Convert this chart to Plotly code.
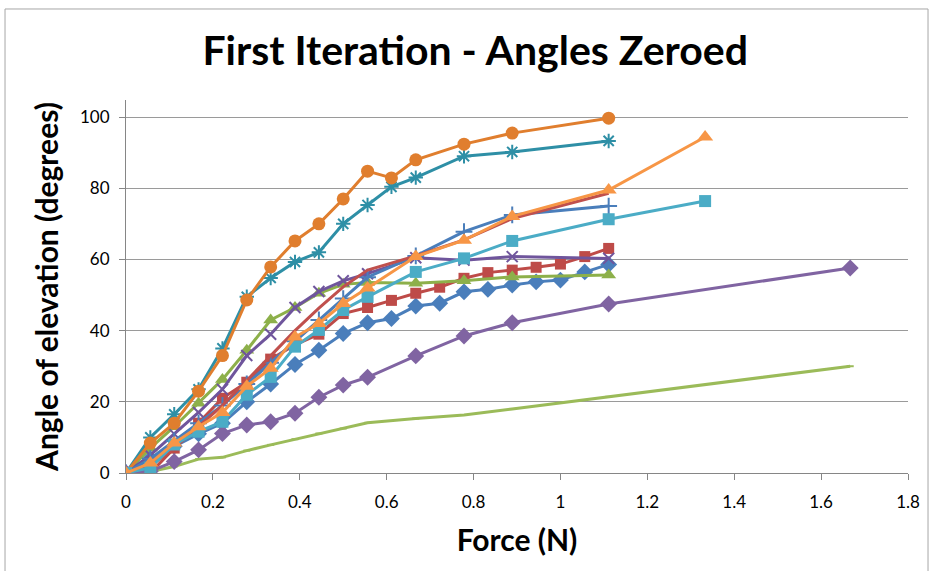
import plotly.graph_objects as go

# ---- data ----
x_full = [0, 0.056, 0.111, 0.167, 0.222, 0.278, 0.333, 0.389, 0.444, 0.5, 0.556,
          0.611, 0.667, 0.722, 0.778, 0.833, 0.889, 0.944, 1.0, 1.056, 1.111]
x_sub = [0, 0.056, 0.111, 0.167, 0.222, 0.278, 0.333, 0.389, 0.444, 0.5, 0.556,
         0.667, 0.778, 0.889, 1.111]
x_sub611 = [0, 0.056, 0.111, 0.167, 0.222, 0.278, 0.333, 0.389, 0.444, 0.5, 0.556,
            0.611, 0.667, 0.778, 0.889, 1.111]
x_long167 = [0, 0.056, 0.111, 0.167, 0.222, 0.278, 0.333, 0.389, 0.444, 0.5, 0.556,
             0.667, 0.778, 0.889, 1.111, 1.667]
x_long133 = [0, 0.056, 0.111, 0.167, 0.222, 0.278, 0.333, 0.389, 0.444, 0.5, 0.556,
             0.667, 0.778, 0.889, 1.111, 1.333]

blue_diamond = [0, 4, 7.5, 11, 14, 20, 25, 30.5, 34.5, 39.2, 42.2, 43.4, 46.9, 47.7,
                50.9, 51.6, 52.8, 53.7, 54.2, 56.5, 58.6]
red_square = [0, 0, 7, 14, 21, 25.5, 32, 36, 39, 44.8, 46.5, 48.5, 50.5, 52.2,
              54.7, 56.3, 57, 57.8, 58.7, 60.8, 63.1]
green_triangle = [0, 7, 13, 19.6, 26.3, 34.5, 43, 46.5, 50.5, 53, 53.5, 53.3, 54, 55.1, 55.6]
purple_x = [0, 5, 11, 17, 23.5, 33, 39, 46.5, 51, 54, 56, 60.5, 59.8, 60.8, 60.3]
teal_star = [0, 10, 16.5, 23.5, 35, 49.5, 54.8, 59.3, 62, 70, 75.3, 80.4, 83, 89, 90.2, 93.3]
orange_circle = [0, 8.4, 14, 23, 33, 48.6, 57.9, 65.2, 70, 77, 84.8, 82.9, 88, 92.4, 95.5, 99.7]
blue_plus = [0, 4, 9, 14, 19, 25, 31, 37, 43, 49, 55, 61, 67.8, 72.5, 75]
red_line = [0, 2, 7, 13, 19, 26, 33, 40, 46.3, 52.3, 57, 61, 65.5, 71.5, 78.6]
light_green = [0, 0.4, 1.8, 3.9, 4.4, 6.3, 7.9, 9.5, 11.1, 12.5, 14.1, 15.3, 16.3, 18, 21.4, 30]
purple_diamond = [0, 0.5, 3.2, 6.5, 11.1, 13.5, 14.4, 16.8, 21.3, 24.7, 26.9, 32.9, 38.5,
                  42.2, 47.5, 57.6]
aqua_square = [0, 1.5, 8, 11.6, 14.4, 22, 27, 35.5, 40.2, 45.8, 49.5, 56.5, 60.3, 65.2,
               71.3, 76.4]
orange_triangle = [0, 2.8, 8.4, 13, 17, 24.4, 29.4, 38.2, 42, 47.6, 52, 60.8, 65.4, 72.1,
                   79.5, 94.4]

x_ticks = [0, 0.2, 0.4, 0.6, 0.8, 1.0, 1.2, 1.4, 1.6, 1.8]
x_tick_labels = ["0", "0.2", "0.4", "0.6", "0.8", "1", "1.2", "1.4", "1.6", "1.8"]
y_ticks = [0, 20, 40, 60, 80, 100]

title_text = "First Iteration - Angles Zeroed"
x_title = "Force (N)"
y_title = "Angle of elevation (degrees)"

# ---- series specs (drawn in order) ----
series = [
    (x_full, blue_diamond, "#4A7EBB", "diamond", 13, None),
    (x_full, red_square, "#BE4B48", "square", 11, None),
    (x_sub, green_triangle, "#8DB04A", "triangle-up", 13, None),
    (x_sub, purple_x, "#6F559C", "x-thin-open", 11, 2),
    (x_sub611, teal_star, "#2E8FA6", "asterisk-open", 12, 2),
    (x_sub611, orange_circle, "#E07E2E", "circle", 13, None),
    (x_sub, blue_plus, "#4A7EBB", "cross-thin-open", 12, 2),
    (x_sub, red_line, "#C0504D", None, 0, None),
    (x_long167, light_green, "#9BBB59", "line-ew-open", 5, 2),
    (x_long167, purple_diamond, "#8064A2", "diamond", 13, None),
    (x_long133, aqua_square, "#4BACC6", "square", 12, None),
    (x_long133, orange_triangle, "#F79646", "triangle-up", 14, None),
]

fig = go.Figure()
for xs, ys, color, sym, size, lw in series:
    if sym is None:
        fig.add_trace(go.Scatter(x=xs, y=ys, mode="lines",
                                 line=dict(color=color, width=3)))
    else:
        marker = dict(symbol=sym, size=size, color=color)
        if lw:
            marker["line"] = dict(color=color, width=lw)
        fig.add_trace(go.Scatter(x=xs, y=ys, mode="lines+markers",
                                 line=dict(color=color, width=3), marker=marker))

fig.update_layout(
    width=930, height=571,
    margin=dict(l=126, r=22, t=100, b=98),
    paper_bgcolor="white", plot_bgcolor="white",
    showlegend=False,
    font=dict(family="Lato, Carlito, sans-serif", color="#000000"),
    title=dict(text="<b>" + title_text + "</b>", x=0.511, xanchor="center",
               y=0.912, yanchor="middle",
               font=dict(size=41, family="Lato, Carlito, sans-serif", color="#000000")),
)
fig.update_xaxes(
    range=[0, 1.8], tickvals=x_ticks, ticktext=x_tick_labels, automargin=False,
    showgrid=False, zeroline=False,
    showline=True, linecolor="#868686", linewidth=1,
    ticks="outside", ticklen=6, tickcolor="#868686", ticklabelstandoff=8,
    tickfont=dict(size=17, color="#000000"),
    title=dict(text="<b>" + x_title + "</b>", font=dict(size=30), standoff=18),
)
fig.update_yaxes(
    range=[0, 104.8], tickvals=y_ticks, automargin=False,
    showgrid=True, gridcolor="#9A9A9A", gridwidth=1, zeroline=False,
    showline=True, linecolor="#868686", linewidth=1,
    ticks="outside", ticklen=6, tickcolor="#868686", ticklabelstandoff=6,
    tickfont=dict(size=17, color="#000000"),
    title=dict(text="<b>" + y_title + "</b>", font=dict(size=30), standoff=12),
)
# chart-area border
fig.add_shape(type="rect", xref="paper", yref="paper",
              x0=-0.1547, x1=1.0256, y0=-0.27, y1=1.244,
              line=dict(color="#A6A6A6", width=1), layer="below")

fig.write_html("out.html", config={"displayModeBar": False},
               post_script="document.body.style.margin='0';")
